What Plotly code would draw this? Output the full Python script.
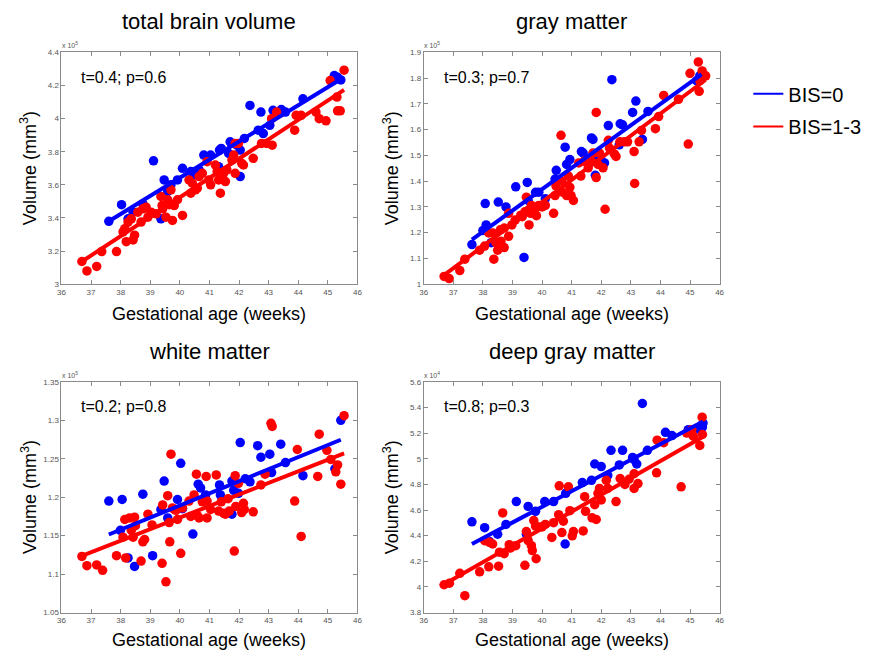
import plotly.graph_objects as go

FONT = "Liberation Sans, Arial, sans-serif"
BLUE = "#0000FF"
RED = "#FF0000"
W, H = 879, 659
OFF = 8  # default body margin of the html page
FW, FH = W - OFF, H - OFF

# ---------------- data ----------------
# total brain volume (x 1e5 mm^3)
tbv_blue_age = [37.60, 38.03, 38.25, 38.42, 38.75, 39.11, 39.36, 39.47, 39.59, 39.70,
                39.92, 40.09, 40.37, 40.48, 40.65, 40.81, 41.04, 41.31, 41.34, 41.40,
                41.65, 41.70, 41.93, 42.04, 42.04, 42.18, 42.37, 42.65, 42.74, 42.82,
                43.04, 43.15, 43.43, 43.57, 44.16, 45.22, 45.33, 45.44]
tbv_blue_vol = [3.38, 3.48, 3.395, 3.435, 3.485, 3.745, 3.395, 3.63, 3.56, 3.60,
                3.63, 3.70, 3.68, 3.66, 3.69, 3.78, 3.78, 3.71, 3.81, 3.82,
                3.79, 3.86, 3.84, 3.81, 3.65, 3.88, 4.08, 3.93, 4.04, 3.91,
                3.96, 4.05, 4.055, 4.04, 4.12, 4.26, 4.25, 4.234]
tbv_red_age = [36.69, 36.86, 37.19, 37.36, 37.86, 38.08, 38.14, 38.19, 38.25, 38.36,
               38.42, 38.47, 38.58, 38.69, 38.75, 38.86, 38.92, 39.03, 39.20, 39.36,
               39.40, 39.42, 39.53, 39.59, 39.64, 39.70, 39.75, 39.81, 39.92, 40.09,
               40.31, 40.37, 40.42, 40.53, 40.59, 40.65, 40.76, 40.92, 40.98, 41.04,
               41.20, 41.26, 41.31, 41.37, 41.48, 41.54, 41.59, 41.76, 41.82, 41.87,
               41.87, 41.98, 42.09, 42.15, 42.48, 42.76, 42.93, 43.10, 43.12, 43.27,
               43.88, 43.93, 44.10, 44.60, 44.71, 44.94, 45.08, 45.31, 45.33, 45.42,
               45.55]
tbv_red_vol = [3.137, 3.08, 3.107, 3.197, 3.197, 3.316, 3.335, 3.257, 3.375, 3.395,
               3.267, 3.296, 3.435, 3.375, 3.455, 3.465, 3.405, 3.435, 3.425, 3.53,
               3.475, 3.455, 3.405, 3.51, 3.48, 3.57, 3.385, 3.475, 3.51, 3.415,
               3.63, 3.55, 3.61, 3.57, 3.58, 3.65, 3.67, 3.74, 3.63, 3.60,
               3.72, 3.68, 3.63, 3.55, 3.67, 3.62, 3.69, 3.75, 3.78, 3.67,
               3.85, 3.85, 3.73, 3.72, 3.76, 3.85, 3.85, 4.0, 3.84, 4.04,
               3.93, 4.02, 4.02, 4.04, 4.0, 3.987, 4.23, 4.13, 4.047, 4.047,
               4.293]
tbv_fit_blue_age = [37.60, 45.49]
tbv_fit_blue_vol = [3.38, 4.244]
tbv_fit_red_age = [36.69, 45.55]
tbv_fit_red_vol = [3.137, 4.174]

# gray matter (x 1e5 mm^3)
gm_blue_age = [37.63, 38.00, 38.11, 38.08, 38.28, 38.52, 38.78, 39.11, 39.39, 39.50,
               39.53, 39.78, 39.89, 40.11, 40.44, 40.48, 40.78, 40.83, 40.94, 41.33,
               41.39, 41.67, 41.72, 41.76, 41.80, 42.00, 42.11, 42.24, 42.36, 42.61,
               42.64, 42.72, 43.06, 43.17, 43.39, 43.58, 45.22, 45.33]
gm_blue_vol = [1.154, 1.208, 1.23, 1.313, 1.161, 1.319, 1.30, 1.378, 1.104, 1.395,
               1.325, 1.357, 1.357, 1.332, 1.408, 1.442, 1.532, 1.465, 1.484, 1.515,
               1.509, 1.568, 1.562, 1.49, 1.423, 1.48, 1.471, 1.616, 1.794, 1.541,
               1.623, 1.619, 1.667, 1.711, 1.562, 1.671, 1.79, 1.809]
gm_red_age = [36.69, 36.86, 37.22, 37.39, 37.89, 38.06, 38.20, 38.33, 38.37, 38.44,
              38.50, 38.59, 38.61, 38.72, 38.72, 38.87, 38.87, 38.98, 39.09, 39.28,
              39.33, 39.42, 39.47, 39.53, 39.56, 39.61, 39.64, 39.72, 39.78, 39.81,
              39.89, 40.00, 40.11, 40.39, 40.44, 40.47, 40.64, 40.67, 40.69, 40.83,
              40.89, 40.94, 40.98, 41.06, 41.24, 41.31, 41.42, 41.56, 41.67, 41.72,
              41.83, 41.83, 41.89, 41.94, 42.06, 42.13, 42.24, 42.28, 42.44, 42.50,
              42.63, 42.78, 42.89, 43.11, 43.13, 43.28, 43.36, 43.83, 43.94, 44.11,
              44.61, 44.94, 45.00, 45.28, 45.31, 45.33, 45.41, 45.53]
gm_red_vol = [1.030, 1.022, 1.053, 1.097, 1.132, 1.148, 1.199, 1.199, 1.097, 1.161,
              1.132, 1.211, 1.167, 1.142, 1.218, 1.275, 1.186, 1.23, 1.249, 1.268,
              1.262, 1.281, 1.338, 1.287, 1.23, 1.275, 1.306, 1.275, 1.294, 1.266,
              1.306, 1.30, 1.306, 1.275, 1.344, 1.382, 1.578, 1.401, 1.357, 1.344,
              1.42, 1.376, 1.344, 1.325, 1.471, 1.42, 1.477, 1.452, 1.477, 1.509,
              1.414, 1.667, 1.465, 1.509, 1.452, 1.291, 1.559, 1.528, 1.506, 1.496,
              1.553, 1.553, 1.553, 1.515, 1.391, 1.553, 1.597, 1.604, 1.651, 1.733,
              1.718, 1.544, 1.819, 1.863, 1.749, 1.79, 1.828, 1.809]
gm_fit_blue_age = [37.63, 45.39]
gm_fit_blue_vol = [1.173, 1.815]
gm_fit_red_age = [36.63, 45.53]
gm_fit_red_vol = [1.03, 1.794]

# white matter (x 1e5 mm^3)
wm_blue_age = [37.60, 38.05, 37.99, 38.25, 38.47, 38.75, 39.08, 39.36, 39.47, 39.59,
               39.92, 40.03, 40.09, 40.44, 40.62, 40.70, 40.87, 41.34, 41.37, 41.76,
               41.82, 41.76, 41.98, 42.04, 42.21, 42.37, 42.63, 42.74, 43.04, 43.10,
               43.41, 43.57, 44.16, 45.24, 45.44]
wm_blue_vol = [1.195, 1.197, 1.157, 1.121, 1.110, 1.204, 1.124, 1.184, 1.221, 1.173,
               1.197, 1.244, 1.185, 1.152, 1.217, 1.212, 1.203, 1.216, 1.203, 1.221,
               1.209, 1.178, 1.205, 1.271, 1.224, 1.220, 1.267, 1.252, 1.256, 1.232,
               1.269, 1.245, 1.228, 1.237, 1.300]
wm_red_age = [36.69, 36.86, 37.19, 37.39, 37.86, 38.08, 38.14, 38.17, 38.30, 38.36,
              38.42, 38.47, 38.50, 38.69, 38.75, 38.81, 38.92, 39.06, 39.40, 39.42,
              39.53, 39.59, 39.64, 39.66, 39.70, 39.75, 39.81, 39.87, 39.92, 40.03,
              40.09, 40.31, 40.37, 40.48, 40.56, 40.59, 40.65, 40.76, 40.89, 40.92,
              40.92, 41.04, 41.23, 41.31, 41.40, 41.48, 41.54, 41.63, 41.67, 41.84,
              41.87, 41.89, 41.98, 42.09, 42.15, 42.18, 42.48, 42.74, 42.88, 43.08,
              43.12, 43.88, 43.97, 44.10, 44.66, 44.71, 44.97, 45.10, 45.27, 45.33,
              45.44, 45.55]
wm_red_vol = [1.123, 1.111, 1.112, 1.105, 1.124, 1.148, 1.171, 1.121, 1.173, 1.157,
              1.148, 1.174, 1.163, 1.117, 1.142, 1.145, 1.178, 1.164, 1.114, 1.190,
              1.090, 1.202, 1.167, 1.142, 1.256, 1.186, 1.184, 1.183, 1.171, 1.127,
              1.186, 1.195, 1.175, 1.203, 1.230, 1.176, 1.173, 1.194, 1.227, 1.195,
              1.173, 1.184, 1.229, 1.182, 1.194, 1.179, 1.178, 1.198, 1.182, 1.130,
              1.228, 1.188, 1.218, 1.180, 1.192, 1.184, 1.181, 1.216, 1.230, 1.296,
              1.292, 1.195, 1.262, 1.149, 1.227, 1.282, 1.261, 1.249, 1.233, 1.242,
              1.217, 1.306]
wm_fit_blue_age = [37.60, 45.44]
wm_fit_blue_vol = [1.1515, 1.2747]
wm_fit_red_age = [36.58, 45.55]
wm_fit_red_vol = [1.122, 1.257]

# deep gray matter (x 1e4 mm^3)
dgm_blue_age = [37.63, 38.06, 38.22, 38.50, 38.78, 39.13, 39.47, 39.53, 39.78, 40.09,
                40.39, 40.78, 40.80, 41.36, 41.67, 41.78, 42.00, 42.22, 42.33, 42.61,
                42.72, 43.06, 43.11, 43.20, 43.39, 43.56, 44.17, 44.39, 44.94, 45.33,
                45.42, 45.44]
dgm_blue_vol = [4.508, 4.462, 4.355, 4.411, 4.488, 4.666, 4.411, 4.628, 4.590, 4.666,
                4.666, 4.335, 4.730, 4.814, 4.832, 4.959, 4.939, 4.870, 5.066, 4.952,
                5.066, 5.010, 4.992, 4.959, 5.431, 5.066, 5.206, 5.181, 5.227, 5.227,
                5.247, 5.278]
dgm_red_age = [36.69, 36.87, 37.22, 37.39, 37.89, 38.06, 38.20, 38.22, 38.33, 38.53,
               38.56, 38.67, 38.72, 38.89, 38.94, 39.11, 39.42, 39.47, 39.53, 39.64,
               39.67, 39.72, 39.80, 39.78, 39.89, 40.00, 40.11, 40.33, 40.39, 40.56,
               40.58, 40.67, 40.72, 40.89, 40.94, 41.02, 41.06, 41.39, 41.44, 41.47,
               41.69, 41.78, 41.83, 41.89, 41.94, 42.00, 42.17, 42.22, 42.50, 42.64,
               42.80, 42.94, 43.11, 43.11, 43.24, 43.87, 43.89, 44.11, 44.70, 44.89,
               45.06, 45.11, 45.33, 45.41, 45.42]
dgm_red_vol = [4.017, 4.029, 4.106, 3.932, 4.118, 4.361, 4.157, 4.348, 4.335, 4.162,
               4.271, 4.577, 4.259, 4.330, 4.304, 4.322, 4.169, 4.432, 4.361, 4.322,
               4.284, 4.518, 4.220, 4.475, 4.468, 4.468, 4.488, 4.386, 4.501, 4.564,
               4.789, 4.424, 4.513, 4.781, 4.595, 4.399, 4.432, 4.437, 4.704, 4.590,
               4.539, 4.641, 4.526, 4.730, 4.768, 4.679, 4.832, 4.768, 4.666, 4.845,
               4.799, 4.840, 4.883, 4.768, 4.806, 4.890, 5.145, 5.125, 4.781, 5.20,
               5.227, 5.176, 5.104, 5.324, 5.189]
dgm_fit_blue_age = [37.63, 45.44]
dgm_fit_blue_vol = [4.335, 5.29]
dgm_fit_red_age = [36.56, 45.44]
dgm_fit_red_vol = [4.004, 5.171]

titles = ["total brain volume", "gray matter", "white matter", "deep gray matter"]
stats = ["t=0.4; p=0.6", "t=0.3; p=0.7", "t=0.2; p=0.8", "t=0.8; p=0.3"]
exponents = ["5", "5", "5", "4"]
y_ranges = [[3.0, 4.4], [1.0, 1.9], [1.05, 1.35], [3.8, 5.6]]
y_dticks = [0.2, 0.1, 0.05, 0.2]
x_range = [36, 46]
legend_names = ["BIS=0", "BIS=1-3"]

panels = [
    (tbv_blue_age, tbv_blue_vol, tbv_red_age, tbv_red_vol,
     tbv_fit_blue_age, tbv_fit_blue_vol, tbv_fit_red_age, tbv_fit_red_vol),
    (gm_blue_age, gm_blue_vol, gm_red_age, gm_red_vol,
     gm_fit_blue_age, gm_fit_blue_vol, gm_fit_red_age, gm_fit_red_vol),
    (wm_blue_age, wm_blue_vol, wm_red_age, wm_red_vol,
     wm_fit_blue_age, wm_fit_blue_vol, wm_fit_red_age, wm_fit_red_vol),
    (dgm_blue_age, dgm_blue_vol, dgm_red_age, dgm_red_vol,
     dgm_fit_blue_age, dgm_fit_blue_vol, dgm_fit_red_age, dgm_fit_red_vol),
]

# ---------------- layout geometry (page pixels) ----------------
# (left, right, top, bottom) of each plot box
boxes = [(58, 357, 49, 284), (424, 723, 49, 284),
         (58, 357, 383, 617), (424, 723, 383, 617)]


def fx(px):
    return (px - OFF) / FW


def fy(py):
    return 1 - (py - OFF) / FH


fig = go.Figure()
annotations = []
layout_axes = {}

for i, (data, box) in enumerate(zip(panels, boxes)):
    n = i + 1
    xa = "x" if n == 1 else f"x{n}"
    ya = "y" if n == 1 else f"y{n}"
    ba, bv, ra, rv, fba, fbv, fra, frv = data
    fig.add_trace(go.Scatter(x=ba, y=bv, mode="markers", xaxis=xa, yaxis=ya,
                             marker=dict(color=BLUE, size=9.5, line=dict(width=0)),
                             showlegend=False))
    fig.add_trace(go.Scatter(x=ra, y=rv, mode="markers", xaxis=xa, yaxis=ya,
                             marker=dict(color=RED, size=9.5, line=dict(width=0)),
                             showlegend=False))
    fig.add_trace(go.Scatter(x=fba, y=fbv, mode="lines", xaxis=xa, yaxis=ya,
                             line=dict(color=BLUE, width=4), showlegend=False))
    fig.add_trace(go.Scatter(x=fra, y=frv, mode="lines", xaxis=xa, yaxis=ya,
                             line=dict(color=RED, width=4), showlegend=False))

    l, r, t, b = box
    axis_common = dict(showline=True, linecolor="#8a8a8a", linewidth=1, mirror="ticks",
                       ticks="inside", ticklen=4, tickcolor="#8a8a8a",
                       showgrid=False, zeroline=False,
                       tickfont=dict(family=FONT, size=8, color="#555555"))
    layout_axes["xaxis" if n == 1 else f"xaxis{n}"] = dict(
        domain=[fx(l), fx(r)], range=x_range, dtick=1, tick0=36,
        anchor=ya, **axis_common)
    layout_axes["yaxis" if n == 1 else f"yaxis{n}"] = dict(
        domain=[fy(b), fy(t)], range=y_ranges[i], dtick=y_dticks[i],
        tick0=y_ranges[i][0], anchor=xa, **axis_common)

    cx = (l + r) / 2
    # panel title
    annotations.append(dict(text=titles[i], x=fx(cx), y=fy(t - 31), xref="paper", yref="paper",
                            showarrow=False, xanchor="center", yanchor="middle",
                            font=dict(family=FONT, size=22, color="black")))
    # x axis title
    annotations.append(dict(text="Gestational age (weeks)", x=fx(cx), y=fy(b + (30 if i < 2 else 28)),
                            xref="paper", yref="paper", showarrow=False,
                            xanchor="center", yanchor="middle",
                            font=dict(family=FONT, size=18, color="black")))
    # y axis title
    annotations.append(dict(text="Volume (mm<sup>3</sup>)", x=fx(l - 33), y=fy((t + b) / 2),
                            xref="paper", yref="paper", showarrow=False, textangle=-90,
                            xanchor="center", yanchor="middle",
                            font=dict(family=FONT, size=18, color="black")))
    # exponent label
    annotations.append(dict(text=f"x 10<sup>{exponents[i]}</sup>", x=fx(l - 2), y=fy(t - 1),
                            xref="paper", yref="paper", showarrow=False,
                            xanchor="left", yanchor="bottom",
                            font=dict(family=FONT, size=7, color="#555555")))
    # statistics text
    annotations.append(dict(text=stats[i], x=fx(l + 18), y=fy(t + 25),
                            xref="paper", yref="paper", showarrow=False,
                            xanchor="left", yanchor="middle",
                            font=dict(family=FONT, size=16, color="black")))

# legend entries
fig.add_trace(go.Scatter(x=[None], y=[None], mode="lines", name=legend_names[0],
                         line=dict(color=BLUE, width=2), legend="legend"))
fig.add_trace(go.Scatter(x=[None], y=[None], mode="lines", name=legend_names[1],
                         line=dict(color=RED, width=2), legend="legend2"))

legend_common = dict(xanchor="left", yanchor="middle", bgcolor="rgba(0,0,0,0)",
                     borderwidth=0, font=dict(family=FONT, size=20, color="black"))

fig.update_layout(
    width=FW, height=FH,
    margin=dict(l=0, r=0, t=0, b=0),
    paper_bgcolor="white", plot_bgcolor="white",
    annotations=annotations,
    legend=dict(x=fx(752), y=fy(91), **legend_common),
    legend2=dict(x=fx(752), y=fy(124), **legend_common),
    **layout_axes,
)

fig.write_html("out.html")
